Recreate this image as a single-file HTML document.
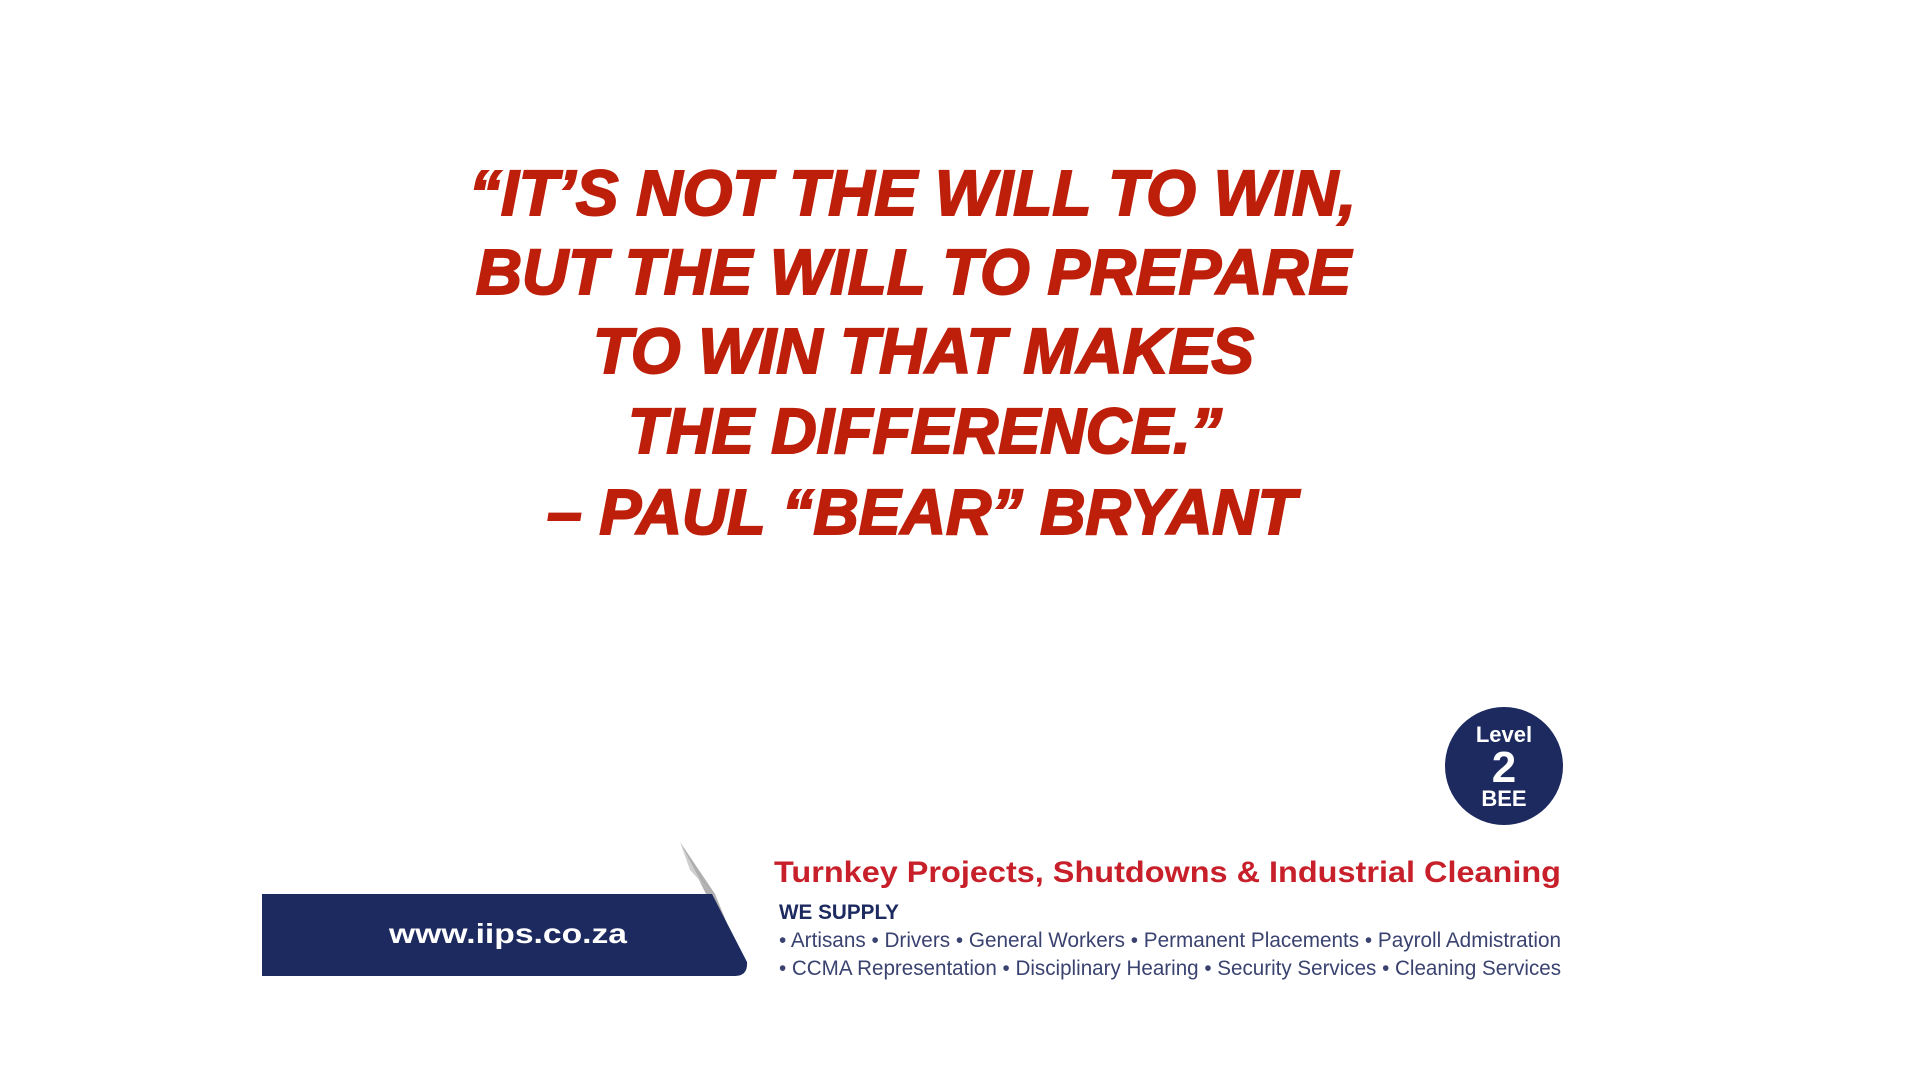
<!DOCTYPE html>
<html><head><meta charset="utf-8"><style>
html,body{margin:0;padding:0;background:#fff;width:1920px;height:1080px;overflow:hidden}
svg{display:block}
</style></head><body>
<svg width="1920" height="1080" viewBox="0 0 1920 1080">
<g fill="#bd1f0b" stroke="#bd1f0b" stroke-width="2" font-family="'Liberation Sans', sans-serif" font-weight="bold" font-style="italic" font-size="64">
<text x="469" y="215" textLength="887" lengthAdjust="spacingAndGlyphs">“IT’S NOT THE WILL TO WIN,</text>
<text x="476" y="294" textLength="875" lengthAdjust="spacingAndGlyphs">BUT THE WILL TO PREPARE</text>
<text x="593" y="373" textLength="661" lengthAdjust="spacingAndGlyphs">TO WIN THAT MAKES</text>
<text x="628" y="453" textLength="594" lengthAdjust="spacingAndGlyphs">THE DIFFERENCE.”</text>
<text x="547" y="534" textLength="749" lengthAdjust="spacingAndGlyphs">– PAUL “BEAR” BRYANT</text>
</g>
<g>
<polygon points="680,842 715,894 740,955 705,892" fill="#7a7a7a" opacity="0.6"/>
<polygon points="680,842 700,880 712,894 690,870" fill="#cfcfcf"/>
<path d="M262,894 L712,894 L747,962 Q748,976 735,976 L262,976 Z" fill="#1d2a5f"/>
<text x="508" y="943" text-anchor="middle" fill="#fff" font-family="'Liberation Sans', sans-serif" font-weight="bold" font-size="28" textLength="238" lengthAdjust="spacingAndGlyphs">www.iips.co.za</text>
</g>
<g>
<circle cx="1504" cy="766" r="59" fill="#1d2a5f"/>
<text x="1504" y="742" text-anchor="middle" fill="#fff" font-family="'Liberation Sans', sans-serif" font-weight="bold" font-size="22">Level</text>
<text x="1504" y="782" text-anchor="middle" fill="#fff" font-family="'Liberation Sans', sans-serif" font-weight="bold" font-size="44">2</text>
<text x="1504" y="806" text-anchor="middle" fill="#fff" font-family="'Liberation Sans', sans-serif" font-weight="bold" font-size="22">BEE</text>
</g>
<g font-family="'Liberation Sans', sans-serif">
<text x="774" y="882" fill="#c8202a" font-weight="bold" font-size="30" textLength="787" lengthAdjust="spacingAndGlyphs">Turnkey Projects, Shutdowns &amp; Industrial Cleaning</text>
<text x="779" y="919" fill="#1d2a5f" font-weight="bold" font-size="21" textLength="120" lengthAdjust="spacingAndGlyphs">WE SUPPLY</text>
<text x="779" y="947" fill="#3a4270" font-size="21" textLength="782" lengthAdjust="spacingAndGlyphs">• Artisans • Drivers • General Workers • Permanent Placements • Payroll Admistration</text>
<text x="779" y="975" fill="#3a4270" font-size="21" textLength="782" lengthAdjust="spacingAndGlyphs">• CCMA Representation • Disciplinary Hearing • Security Services • Cleaning Services</text>
</g>
</svg>
</body></html>
